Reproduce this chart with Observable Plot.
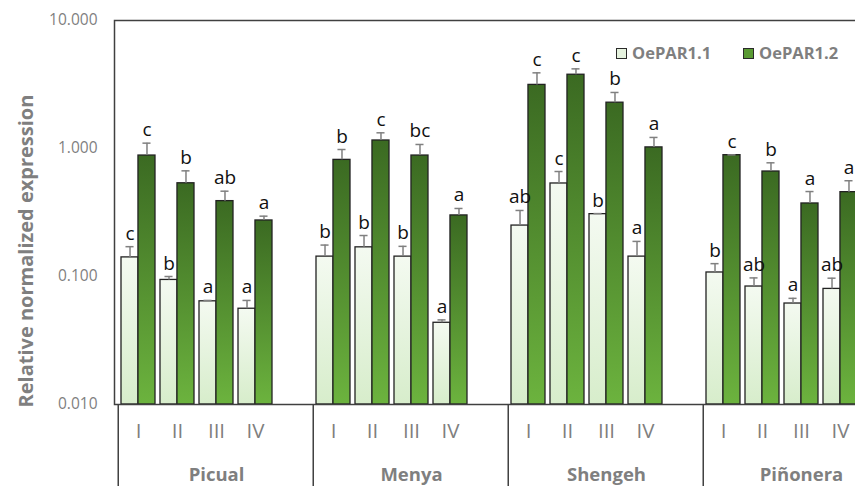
<!DOCTYPE html>
<html><head><meta charset="utf-8">
<script src="https://cdn.jsdelivr.net/npm/d3@7"></script>
<script src="https://cdn.jsdelivr.net/npm/@observablehq/plot@0.6"></script>
<style>
html,body{margin:0;padding:0;background:#fff;overflow:hidden;width:855px;height:486px}
#wrap{position:relative;width:903px;height:486px;font-family:"Open Sans",sans-serif}
#title{position:absolute;left:25px;top:251px;transform:translate(-50%,-50%) rotate(-90deg);white-space:nowrap;font-weight:700;font-size:20px;color:#7f7f7f}
#legend{position:absolute;left:616px;top:41px;display:flex;align-items:center;font-weight:700;font-size:16.5px;color:#7f7f7f;line-height:24px}
#legend .item{display:flex;align-items:center;margin-right:32px}
#legend .sw{width:9px;height:9px;border:1px solid #2a2a2a;margin-right:5px}
</style></head><body>
<div id="wrap"><div id="title">Relative normalized expression</div><div id="legend"></div></div>
<script>
const cultivars = ["Picual", "Menya", "Shengeh", "Piñonera"];
const stages = ["I", "II", "III", "IV"];
const seriesNames = ["OePAR1.1", "OePAR1.2"];
const yTicks = [0.01, 0.1, 1, 10];

const par11Mean = [0.141, 0.094, 0.064, 0.056, 0.143, 0.169, 0.143, 0.0435, 0.250, 0.533, 0.307, 0.143, 0.1075, 0.0835, 0.0615, 0.080];
const par11SE   = [0.030, 0.006, 0.001, 0.009, 0.033, 0.040, 0.029, 0.0023, 0.078, 0.128, 0.003, 0.045, 0.0185, 0.014, 0.006, 0.017];
const par11Letters = ["c", "b", "a", "a", "b", "b", "b", "a", "ab", "c", "b", "a", "b", "ab", "a", "ab"];

const par12Mean = [0.881, 0.535, 0.388, 0.274, 0.815, 1.155, 0.881, 0.300, 3.14, 3.77, 2.28, 1.02, 0.887, 0.661, 0.372, 0.456];
const par12SE   = [0.22, 0.134, 0.076, 0.022, 0.167, 0.171, 0.194, 0.040, 0.76, 0.42, 0.46, 0.20, 0.005, 0.112, 0.089, 0.104];
const par12Letters = ["c", "b", "ab", "a", "b", "c", "bc", "a", "c", "c", "b", "a", "c", "b", "a", "a"];

// layout
const W = 903, H = 486, ML = 114, MR = 0, MT = 20, MB = 82;
const padIn = 0.14, padOut = 0.07;
const keys = cultivars.flatMap(c => [...stages.map(s => c + "|" + s), c + "|"]);
const step = (W - ML - MR) / (keys.length - padIn + 2 * padOut);
const bw = step * (1 - padIn);
const half = bw / 2, q = bw / 4, cap = 4;

const means = [par11Mean, par12Mean], ses = [par11SE, par12SE], lets = [par11Letters, par12Letters];
const rows = [];
cultivars.forEach((c, ci) => stages.forEach((s, si) => seriesNames.forEach((sn, k) => {
  const i = ci * stages.length + si;
  rows.push({key: c + "|" + s, cultivar: c, stage: s, series: sn, k, value: means[k][i], top: means[k][i] + ses[k][i], letter: lets[k][i]});
})));
const light = rows.filter(d => d.k === 0), dark = rows.filter(d => d.k === 1);

const defs = () => {
  const d = d3.create("svg:defs");
  const g1 = d.append("linearGradient").attr("id", "gLight").attr("x1", 0).attr("y1", 0).attr("x2", 0).attr("y2", 1);
  g1.append("stop").attr("offset", "0%").attr("stop-color", "#f4faf1");
  g1.append("stop").attr("offset", "100%").attr("stop-color", "#d7edcb");
  const g2 = d.append("linearGradient").attr("id", "gDark").attr("x1", 0).attr("y1", 0).attr("x2", 0).attr("y2", 1);
  g2.append("stop").attr("offset", "0%").attr("stop-color", "#3b6a22");
  g2.append("stop").attr("offset", "100%").attr("stop-color", "#6cb33e");
  return d.node();
};

const separators = (index, scales, values, dims) => {
  const g = d3.create("svg:g").attr("stroke", "#404040").attr("stroke-width", 1.5);
  const y0 = dims.height - dims.marginBottom;
  cultivars.forEach(c => {
    const xb = scales.x(c + "|I") + bw / 2 - step / 2;
    g.append("line").attr("x1", xb).attr("x2", xb).attr("y1", y0).attr("y2", dims.height);
  });
  return g.node();
};

const barStyle = {stroke: "#222", strokeWidth: 1.3};
const chart = Plot.plot({
  width: W, height: H, marginLeft: ML, marginRight: MR, marginTop: MT, marginBottom: MB,
  style: {fontFamily: "'Open Sans', sans-serif", color: "#7f7f7f", background: "#fff"},
  x: {type: "band", domain: keys, paddingInner: padIn, paddingOuter: padOut, axis: null},
  y: {type: "log", domain: [yTicks[0], yTicks[yTicks.length - 1]], axis: null},
  marks: [
    defs,
    Plot.barY(light, {x: "key", y1: () => yTicks[0], y2: "value", insetRight: half, fill: "url(#gLight)", ...barStyle}),
    Plot.barY(dark, {x: "key", y1: () => yTicks[0], y2: "value", insetLeft: half, fill: "url(#gDark)", ...barStyle}),
    Plot.ruleX(light, {x: "key", y1: "value", y2: "top", dx: -q, stroke: "#808080", strokeWidth: 1.5}),
    Plot.ruleX(dark, {x: "key", y1: "value", y2: "top", dx: q, stroke: "#808080", strokeWidth: 1.5}),
    Plot.tickY(light, {x: "key", y: "top", insetLeft: q - cap, insetRight: 3 * q - cap, stroke: "#808080", strokeWidth: 1.5}),
    Plot.tickY(dark, {x: "key", y: "top", insetLeft: 3 * q - cap, insetRight: q - cap, stroke: "#808080", strokeWidth: 1.5}),
    Plot.text(light, {x: "key", y: "top", text: "letter", dx: -q, dy: -7, lineAnchor: "bottom", fill: "#111", fontSize: 19}),
    Plot.text(dark, {x: "key", y: "top", text: "letter", dx: q, dy: -7, lineAnchor: "bottom", fill: "#111", fontSize: 19}),
    Plot.axisY({ticks: yTicks, tickFormat: d3.format(".3f"), tickSize: 0, tickPadding: 17, fontSize: 15.5, label: null}),
    Plot.axisX({tickFormat: k => k.split("|")[1], tickSize: 0, tickPadding: 19, fontSize: 20.5, fontWeight: 500, label: null}),
    Plot.text(cultivars, {x: c => c + "|" + stages[2], text: c => c, frameAnchor: "bottom", lineAnchor: "top", dy: 63, fontSize: 18.5, fontWeight: "bold", fill: "#7f7f7f"}),
    Plot.frame({stroke: "#404040", strokeWidth: 1.5}),
    separators
  ]
});
document.getElementById("wrap").appendChild(chart);

const legendColors = ["#e6f3df", "#5a9a33"];
const leg = document.getElementById("legend");
seriesNames.forEach((n, i) => {
  const it = document.createElement("div"); it.className = "item";
  const sw = document.createElement("div"); sw.className = "sw"; sw.style.background = legendColors[i];
  const t = document.createElement("span"); t.textContent = n;
  it.appendChild(sw); it.appendChild(t); leg.appendChild(it);
});
</script></body></html>
